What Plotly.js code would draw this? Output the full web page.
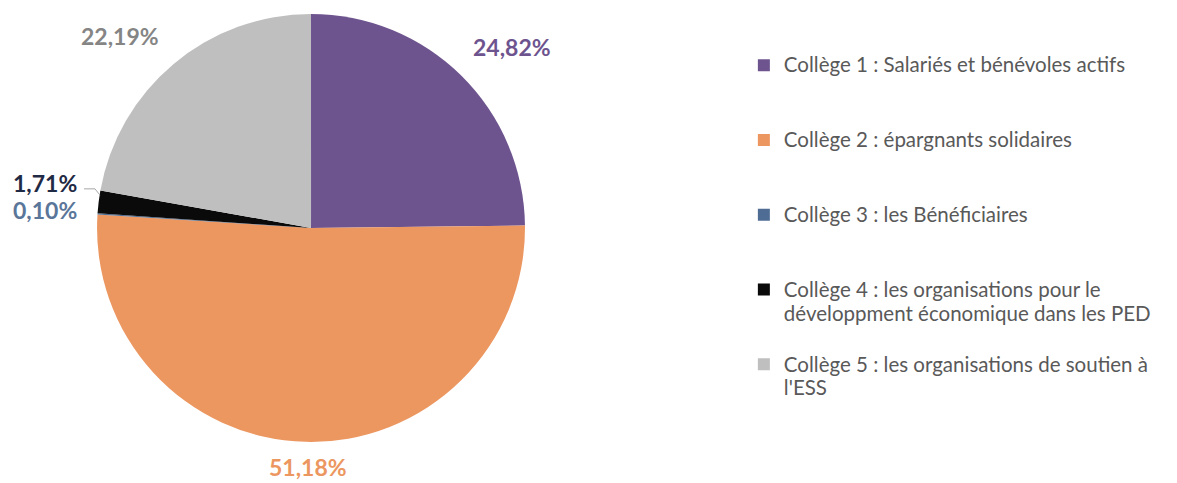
<!DOCTYPE html>
<html>
<head>
<meta charset="utf-8">
<script src="https://cdn.plot.ly/plotly-3.0.1.min.js"></script>
<style>html,body{margin:0;padding:0;background:#fff;}#chart{width:1177px;height:483px;}</style>
</head>
<body>
<div id="chart"></div>
<script>
const categories = [
  "Collège 1 : Salariés et bénévoles actifs",
  "Collège 2 : épargnants solidaires",
  "Collège 3 : les Bénéficiaires",
  "Collège 4 : les organisations pour le<br>développment économique dans les PED",
  "Collège 5 : les organisations de soutien à<br>l'ESS"
];
const values = [24.82, 51.18, 0.10, 1.71, 22.19];
const sliceColors = ["#6E548F", "#EC9660", "#4F6D94", "#0A0A0A", "#BFBFBF"];
const labelColors = ["#6E548F", "#EC9660", "#5A7699", "#1F2A44", "#858585"];
const labelPos = [[0.435, 0.903], [0.262, 0.034], [0.038, 0.565], [0.038, 0.621], [0.102, 0.925]];
const legendPad = ["<br> <br> ", "<br> <br> ", "<br> <br> ", "<br> ", ""];

const fmt = v => v.toFixed(2).replace(".", ",") + "%";
const big = s => s.split("<br>").map(p => '<span style="font-size:20.5px">' + p + '</span>').join("<br>");

const trace = {
  type: "pie",
  labels: categories.map((c, i) => big(c) + legendPad[i]),
  values: values,
  marker: {colors: sliceColors, line: {width: 0}},
  sort: false,
  direction: "clockwise",
  rotation: 0,
  textinfo: "none",
  hoverinfo: "percent",
  domain: {x: [0.0824, 0.4461], y: [0.085, 0.971]}
};

const annotations = values.map((v, i) => ({
  xref: "paper", yref: "paper",
  x: labelPos[i][0], y: labelPos[i][1],
  xanchor: "center", yanchor: "middle",
  text: "<b>" + fmt(v) + "</b>",
  showarrow: false,
  font: {family: "Lato, sans-serif", size: 23, color: labelColors[i]}
}));

const layout = {
  width: 1177, height: 483,
  margin: {l: 0, r: 0, t: 0, b: 0, autoexpand: false},
  paper_bgcolor: "#ffffff",
  showlegend: true,
  legend: {
    x: 0.632, y: 0.903, xanchor: "left", yanchor: "top",
    font: {family: "Lato, sans-serif", size: 18.4, color: "#595959"},
    valign: "top", itemwidth: 30, traceorder: "normal"
  },
  annotations: annotations,
  shapes: [{
    type: "path", xref: "paper", yref: "paper",
    path: "M 0.0714 0.609 L 0.0807 0.609 L 0.0850 0.596",
    line: {color: "#A6A6A6", width: 1}
  }]
};

Plotly.newPlot("chart", [trace], layout, {displayModeBar: false, staticPlot: true});
</script>
</body>
</html>
